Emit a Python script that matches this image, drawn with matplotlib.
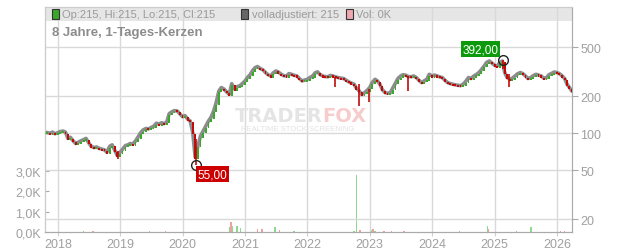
import numpy as np
import pandas as pd
import matplotlib
matplotlib.use('Agg')
import matplotlib.pyplot as plt
import matplotlib.dates as mdates
import matplotlib.transforms as mtransforms
from matplotlib.patches import Rectangle

plt.rcParams['font.family'] = ['Liberation Sans', 'DejaVu Sans']

# closes on the 1st and 15th of each month (Nov 2017 .. Mar 2026)
period = pd.date_range('2017-11-01', '2026-03-15', freq='SMS')
closes = [
    98, 97, 99, 96,                                                     # 2017
    98, 100, 101, 99, 88, 90, 84, 80, 82, 84, 86, 88,                   # 2018
    81, 76, 74, 75, 73, 72, 71, 68, 76, 78, 70, 64,
    68, 72, 77, 78, 80, 79, 84, 90, 98, 103, 106, 105,                  # 2019
    108, 110, 117, 115, 118, 116, 120, 140, 145, 148, 147, 140,
    132, 135, 126, 122, 98, 62, 77, 92, 101, 110, 122, 130,             # 2020
    147, 170, 214, 228, 221, 210, 201, 245, 221, 232, 235, 245,
    258, 275, 292, 315, 331, 338, 325, 318, 302, 290, 283, 300,         # 2021
    311, 305, 292, 285, 283, 296, 292, 287, 283, 270, 258, 262,
    266, 275, 283, 300, 306, 292, 283, 280, 279, 286, 283, 278,         # 2022
    275, 272, 270, 262, 253, 248, 243, 225, 214, 200, 207, 215,
    228, 250, 266, 258, 243, 220, 207, 205, 207, 225, 250, 270,         # 2023
    283, 290, 287, 280, 279, 283, 275, 262, 250, 258, 266, 292,
    283, 288, 283, 278, 275, 262, 250, 246, 243, 240, 238, 236,         # 2024
    243, 255, 275, 270, 283, 290, 302, 318, 342, 365, 375, 362,
    346, 340, 364, 375, 302, 275, 266, 272, 283, 295, 302, 296,         # 2025
    283, 270, 275, 285, 292, 288, 283, 272, 275, 290, 297, 305,
    302, 296, 283, 270, 243, 228,                                       # 2026
]
last_date = '2026-03-28'
last_close = 215

# long wicks visible on the chart
wick_dates = ['2018-12-20', '2020-03-18', '2022-06-12', '2022-10-30', '2022-12-25',
              '2023-08-15', '2025-02-17', '2025-03-25']
wick_lo = [61, 55, 236, 166, 178, 221, 330, 236]
wick_hi = [72, 90, 285, 250, 230, 290, 392, 300]

# volume (thousands)
vol_dates = ['2018-06-01', '2018-07-25', '2019-06-20', '2019-09-25', '2020-10-05', '2020-10-10',
             '2020-10-18', '2020-11-15', '2020-12-05', '2021-03-15', '2021-04-10', '2021-06-25',
             '2021-07-20', '2021-10-15', '2022-10-01', '2022-10-15', '2022-11-05', '2023-01-10',
             '2023-01-20', '2023-02-01', '2023-03-25', '2023-05-10', '2023-07-20', '2024-06-10',
             '2024-11-20', '2024-11-28', '2025-05-10', '2025-08-01', '2026-01-20', '2026-02-15']
vol_k = [0.05, 0.06, 0.05, 0.05, 0.25, 0.5, 0.3, 0.3, 0.2, 0.15, 0.15, 0.25,
         0.1, 0.05, 0.05, 2.8, 0.1, 0.1, 0.15, 0.05, 0.05, 0.05, 0.05, 0.03,
         0.3, 0.15, 0.05, 0.25, 0.05, 0.05]
vol_up = [1, 0, 1, 0, 1, 0, 1, 1, 1, 0, 0, 1, 0, 1, 1, 1, 0, 1, 0, 1, 0, 0, 0, 1,
          1, 0, 1, 1, 0, 0]

dates = list(period) + [pd.Timestamp(last_date)]
cl = closes + [last_close]
opens = [cl[0]] + cl[:-1]

GREEN = '#3aa82a'
RED = '#c20a0a'

fig = plt.figure(figsize=(6.32, 2.53), dpi=100)
ax = fig.add_axes([45 / 632, 20 / 253, 527 / 632, 225 / 253])
ax2 = ax.twinx()

# volume axis (left)
ax.set_ylim(0, 11.08)
vc = ['#8fd88f' if u else '#f0a0a0' for u in vol_up]
ax.bar(pd.to_datetime(vol_dates), vol_k, width=8, color=vc, zorder=2)
ax.set_yticks([0, 1, 2, 3])
ax.set_yticklabels(['0,0K', '1,0K', '2,0K', '3,0K'])
ax.tick_params(axis='y', direction='in', length=3, color='#aaaaaa',
               labelcolor='#a0a0a0', labelsize=9, pad=3)

# header band
ax.add_patch(Rectangle((0, 1 - 14 / 225), 1, 14 / 225, transform=ax.transAxes,
                       facecolor='#e6e6e6', edgecolor='none', zorder=0))

# price axis (right, log)
ax2.set_yscale('log')
ax2.set_ylim(15.7, 1059)
ax2.set_yticks([20, 50, 100, 200, 500])
ax2.set_yticklabels(['20', '50', '100', '200', '500'])
ax2.yaxis.set_minor_locator(matplotlib.ticker.NullLocator())
ax2.tick_params(axis='y', direction='out', length=4, color='#aaaaaa',
                labelcolor='#a0a0a0', labelsize=9, pad=2)
ax2.grid(axis='y', color='#d9d9d9', lw=1, zorder=1)

shadow = mtransforms.offset_copy(ax2.transData, fig=fig, x=0, y=1.5, units='dots')
ax2.plot(dates, cl, color='#8c8c8c', lw=2.6, zorder=3, transform=shadow)
for d, o, c in zip(dates, opens, cl):
    col = GREEN if c >= o else RED
    lo, hi = min(o, c), max(o, c)
    if hi / lo < 1.04:
        hi = lo * 1.04
    ax2.bar(d, hi - lo, bottom=lo, width=11, color=col, zorder=4)
for d, lo, hi in zip(pd.to_datetime(wick_dates), wick_lo, wick_hi):
    ax2.vlines(d, lo, hi, color=RED, lw=1.2, zorder=4)

# extremes
hi_i = int(np.argmax(wick_hi))
lo_i = int(np.argmin(wick_lo))
d_hi = pd.Timestamp(wick_dates[hi_i])
d_lo = pd.Timestamp(wick_dates[lo_i])
ax2.plot([d_hi], [wick_hi[hi_i]], 'o', ms=7, mfc='none', mec='#222222', mew=1, zorder=6)
ax2.plot([d_lo], [wick_lo[lo_i]], 'o', ms=7, mfc='none', mec='#222222', mew=1, zorder=6)
ax2.annotate('{0:.2f}'.format(wick_hi[hi_i]).replace('.', ','), (d_hi, wick_hi[hi_i]),
             xytext=(-4, 11), textcoords='offset pixels', ha='right', va='center',
             fontsize=8.5, color='white',
             bbox=dict(boxstyle='square,pad=0.15', fc='#0c9a0c', ec='none'), zorder=7)
ax2.annotate('{0:.2f}'.format(wick_lo[lo_i]).replace('.', ','), (d_lo, wick_lo[lo_i]),
             xytext=(2, -9), textcoords='offset pixels', ha='left', va='center',
             fontsize=8.5, color='white',
             bbox=dict(boxstyle='square,pad=0.15', fc='#cc0000', ec='none'), zorder=7)

# x axis
ax.set_xlim(pd.Timestamp('2017-10-18'), pd.Timestamp('2026-03-30'))
ax.xaxis.set_major_locator(mdates.YearLocator())
ax.xaxis.set_major_formatter(mdates.DateFormatter('%Y'))
ax.tick_params(axis='x', length=3, color='#d0d0d0', labelcolor='#a0a0a0',
               labelsize=9, pad=1)
ax.grid(axis='x', color='#d9d9d9', lw=1, zorder=1)
ax.set_axisbelow(True)

for a in (ax, ax2):
    for s in a.spines.values():
        s.set_color('#cccccc')
ax.spines['bottom'].set_color('#aaaaaa')
ax2.spines['bottom'].set_color('#aaaaaa')
ax2.spines['right'].set_color('#aaaaaa')
ax.spines['left'].set_color('#aaaaaa')

# watermark
wm = ax.text(0.36, 0.52, 'TRADER', transform=ax.transAxes, fontsize=14, fontweight='bold',
             family='DejaVu Sans', color='#e4e4e4', ha='left', va='center', zorder=1)
ax.annotate('FOX', xy=(1, 0.5), xycoords=wm, ha='left', va='center', fontsize=14,
            family='DejaVu Sans', fontweight='bold', color='#f6cccc', zorder=1)
ax.text(0.372, 0.462, 'REALTIME STOCK SCREENING', transform=ax.transAxes, fontsize=5.5,
        color='#e2e2e2', ha='left', va='center', zorder=1)

# header legend
hy = 1 - 7 / 225
items = [(0.013, '#3aa82a', 'Op:215, Hi:215, Lo:215, Cl:215'),
         (0.372, '#666666', 'volladjustiert: 215'),
         (0.571, '#f0a8b0', 'Vol: 0K')]
for x0, fc, txt in items:
    ax.add_patch(Rectangle((x0, hy - 0.022), 0.013, 0.044, transform=ax.transAxes,
                           facecolor=fc, edgecolor='#333333', lw=0.8, zorder=5, clip_on=False))
    ax.text(x0 + 0.02, hy, txt, transform=ax.transAxes, fontsize=8, color='#9a9a9a',
            ha='left', va='center', zorder=5)
ax.text(0.013, 1 - 25 / 225, '8 Jahre, 1-Tages-Kerzen', transform=ax.transAxes,
        fontsize=9.5, fontweight='bold', color='#8c8c8c', ha='left', va='center', zorder=5)

plt.savefig('out.png', dpi=100)
